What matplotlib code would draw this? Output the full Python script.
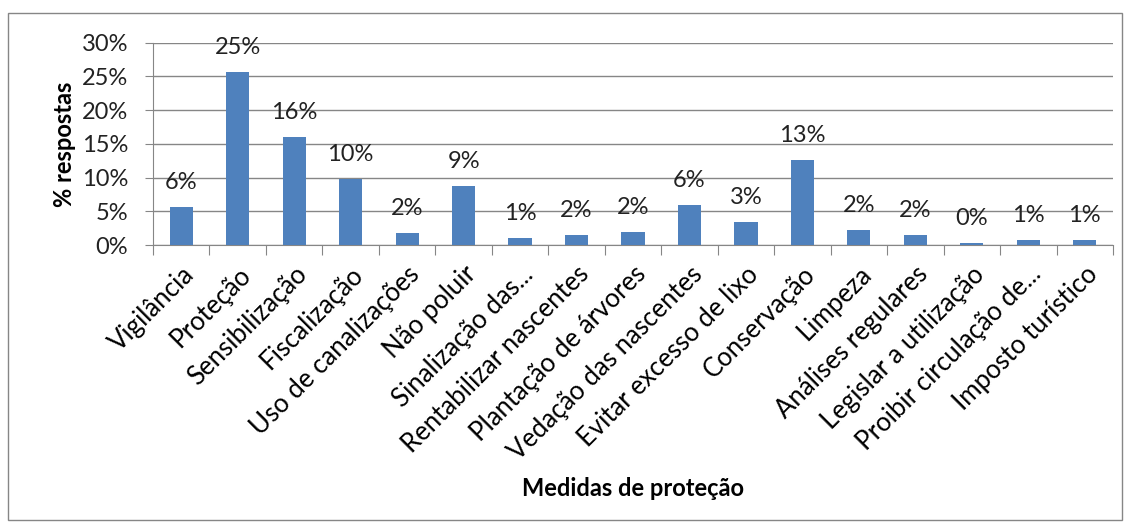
import matplotlib.pyplot as plt
import numpy as np
from matplotlib.patches import Rectangle
from matplotlib.ticker import FuncFormatter, FixedLocator

plt.rcParams['font.family'] = ['Lato', 'DejaVu Sans']

categories = ['Vigilância', 'Proteção', 'Sensibilização', 'Fiscalização',
              'Uso de canalizações', 'Não poluir', 'Sinalização das...',
              'Rentabilizar nascentes', 'Plantação de árvores',
              'Vedação das nascentes', 'Evitar excesso de lixo', 'Conservação',
              'Limpeza', 'Análises regulares', 'Legislar a utilização',
              'Proibir circulação de...', 'Imposto turístico']
values = [5.6, 25.6, 16.0, 9.85, 1.85, 8.7, 1.1, 1.5, 1.9, 6.0, 3.4, 12.6,
          2.2, 1.5, 0.25, 0.75, 0.75]
labels = ['6%', '25%', '16%', '10%', '2%', '9%', '1%', '2%', '2%', '6%', '3%',
          '13%', '2%', '2%', '0%', '1%', '1%']
y_ticks = [0, 5, 10, 15, 20, 25, 30]

grey = '#868686'

fig = plt.figure(figsize=(11.31, 5.28), dpi=100)
ax = fig.add_axes([153 / 1131, 1 - 245 / 528, 960 / 1131, 202.3 / 528])

# outer chart border
fig.patches.append(Rectangle((8 / 1131, 1 - 520 / 528), 1114 / 1131, 507 / 528,
                             transform=fig.transFigure, fill=False,
                             edgecolor=grey, linewidth=1))

x = np.arange(len(categories))
ax.bar(x, values, width=0.41, color='#4F81BD', zorder=3)

for xi, v, lab in zip(x, values, labels):
    ax.annotate(lab, (xi, v), xytext=(0, 10), textcoords='offset points',
                ha='center', va='bottom', fontsize=17, color='#222222')

ax.set_xlim(-0.5, len(categories) - 0.5)
ax.set_ylim(0, 30)
ax.set_yticks(y_ticks)
ax.yaxis.set_major_formatter(FuncFormatter(lambda v, p: f'{int(v)}%'))
ax.grid(axis='y', color=grey, linewidth=1, zorder=0)

# ticks between categories, labels at centres
ax.xaxis.set_major_locator(FixedLocator(np.arange(-0.5, len(categories), 1)))
ax.set_xticklabels([])
ax.set_xticks(x, minor=True)
ax.set_xticklabels(categories, minor=True, rotation=45, ha='right',
                   va='top', rotation_mode='anchor', fontsize=18.5)
ax.tick_params(axis='x', which='major', length=7, color=grey)
ax.tick_params(axis='x', which='minor', length=0, pad=12)
ax.tick_params(axis='y', length=6, color=grey, labelsize=17, pad=12,
               labelcolor='#222222')

for side in ['top', 'right']:
    ax.spines[side].set_visible(False)
for side in ['left', 'bottom']:
    ax.spines[side].set_color(grey)

ax.set_ylabel('% respostas', fontsize=17, fontweight='bold', labelpad=4)
fig.text(633 / 1131, 1 - 489 / 528, 'Medidas de proteção', fontsize=17,
         fontweight='bold', ha='center', va='center')

fig.savefig('out.png', dpi=100)
